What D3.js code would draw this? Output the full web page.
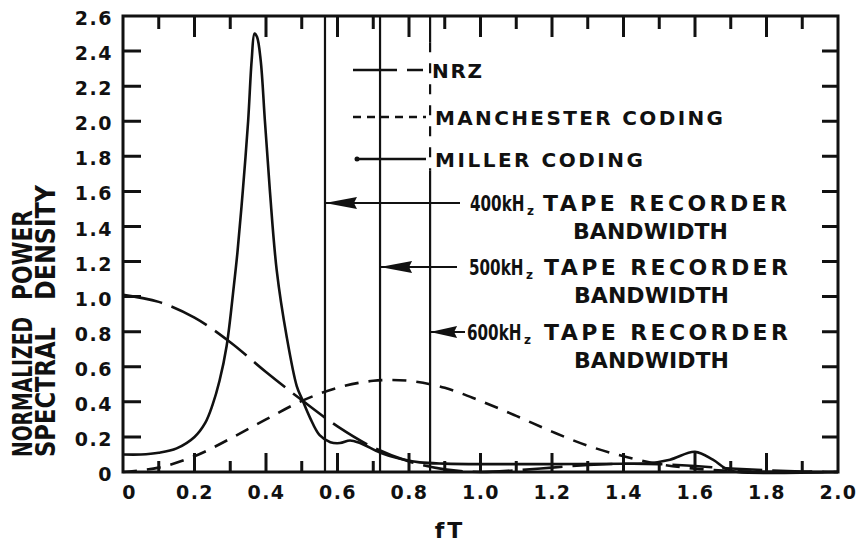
<!DOCTYPE html>
<html>
<head>
<meta charset="utf-8">
<script src="https://cdn.jsdelivr.net/npm/d3@7"></script>
<style>
  body { margin: 0; background: #fff; }
  text { font-family: "DejaVu Sans", sans-serif; font-weight: bold; fill: #111; }
</style>
</head>
<body>
<svg id="chart" width="866" height="543"></svg>
<script>
// values
let fT         = [0, 0.1, 0.2, 0.3, 0.4, 0.5, 0.6, 0.7, 0.8, 0.9, 1.0, 1.1, 1.2, 1.3, 1.4, 1.5, 1.6, 1.7, 1.8, 1.9, 2.0];
let nrz        = [1.01, 0.97, 0.88, 0.74, 0.57, 0.41, 0.26, 0.14, 0.06, 0.015, 0.0, 0.01, 0.025, 0.04, 0.047, 0.045, 0.034, 0.02, 0.01, 0.003, 0.0];
let manchester = [0.0, 0.025, 0.09, 0.19, 0.30, 0.405, 0.48, 0.52, 0.52, 0.48, 0.405, 0.32, 0.23, 0.15, 0.09, 0.045, 0.019, 0.006, 0.001, 0.0, 0.0];

let millerFT  = [0, 0.05, 0.1, 0.15, 0.2, 0.23, 0.25, 0.27, 0.29, 0.31, 0.32, 0.335, 0.35, 0.36, 0.368, 0.375, 0.385, 0.397, 0.411, 0.43, 0.458, 0.486, 0.5, 0.523, 0.55, 0.58, 0.607, 0.635, 0.663, 0.72, 0.775, 0.83, 0.9, 1.0, 1.2, 1.4, 1.47, 1.53, 1.6, 1.65, 1.69, 1.72, 2.0];
let millerVal = [0.10, 0.10, 0.11, 0.135, 0.2, 0.28, 0.38, 0.52, 0.72, 1.06, 1.25, 1.6, 2.0, 2.35, 2.5, 2.48, 2.35, 2.0, 1.6, 1.15, 0.77, 0.49, 0.42, 0.31, 0.21, 0.17, 0.165, 0.18, 0.165, 0.11, 0.075, 0.055, 0.048, 0.045, 0.045, 0.047, 0.05, 0.07, 0.115, 0.07, 0.015, 0.0, 0.0];

// tape recorder bandwidth cut-offs (fT) and the height of their arrows
let bandwidthFT = [0.565, 0.719, 0.859];
let arrowY      = [1.534, 1.169, 0.798];
let bandLabels  = ["400kH", "500kH", "600kH"];

let xTickValues = d3.range(0, 2.001, 0.2);
let yTickValues = d3.range(0, 2.601, 0.2);
let xMinorTicks = [0.1, 0.3, 0.5, 0.7, 0.9, 1.1, 1.3, 1.5, 1.7, 1.9];
let legendNames = ["NRZ", "MANCHESTER CODING", "MILLER CODING"];

let svg = d3.select("#chart");
let mLeft = 123, mRight = 838, mTop = 16, mBottom = 472;

let xScale = d3.scaleLinear().domain([0, 2]).range([mLeft, mRight]);
let yScale = d3.scaleLinear().domain([0, 2.6]).range([mBottom, mTop]);

function fmt(v) { return Math.abs(v) < 1e-9 ? "0" : v.toFixed(1); }

// tick labels through d3 axes
let gx = svg.append("g").attr("transform", "translate(0," + mBottom + ")")
  .call(d3.axisBottom(xScale).tickValues(xTickValues).tickSize(0).tickPadding(14).tickFormat(fmt));
let gy = svg.append("g").attr("transform", "translate(" + mLeft + ",0)")
  .call(d3.axisLeft(yScale).tickValues(yTickValues).tickSize(0).tickPadding(10).tickFormat(fmt));
[gx, gy].forEach(g => {
  g.select(".domain").remove();
  g.selectAll("text").attr("font-size", 19).attr("font-family", "DejaVu Sans")
    .attr("font-weight", "bold").attr("fill", "#111").attr("letter-spacing", 1.5);
});
gx.selectAll("text").attr("dx", d => d == 0 ? 6 : 0);
gy.selectAll("text").attr("dy", "0.45em");

// bandwidth lines
let bw = svg.append("g").attr("stroke", "#111").attr("stroke-width", 2.2);
bandwidthFT.forEach((b, i) => {
  if (i == 2) {
    bw.append("line").attr("x1", xScale(b)).attr("x2", xScale(b)).attr("y1", mTop).attr("y2", yScale(2.45));
    bw.append("line").attr("x1", xScale(b)).attr("x2", xScale(b)).attr("y1", yScale(2.45)).attr("y2", yScale(1.72))
      .attr("stroke-dasharray", "10,11");
    bw.append("line").attr("x1", xScale(b)).attr("x2", xScale(b)).attr("y1", yScale(1.72)).attr("y2", mBottom);
  } else {
    bw.append("line").attr("x1", xScale(b)).attr("x2", xScale(b)).attr("y1", mTop).attr("y2", mBottom);
  }
});

// curves
let curveLine = d3.line().x(d => xScale(d[0])).y(d => yScale(d[1])).curve(d3.curveCatmullRom.alpha(0.5));
let plot = svg.append("g").attr("fill", "none").attr("stroke", "#111").attr("stroke-width", 2.6);

plot.append("path").datum(fT.map((f, i) => [f, nrz[i]])).attr("d", curveLine).attr("stroke-dasharray", "40,10");
plot.append("path").datum(fT.map((f, i) => [f, manchester[i]])).attr("d", curveLine).attr("stroke-dasharray", "14,10");
plot.append("path").datum(millerFT.map((f, i) => [f, millerVal[i]])).attr("d", curveLine);

// legend
let legend = svg.append("g");
let legX0 = 353, legX1 = 426;
let legY = [70, 117, 159];
let legDash = ["44,10,16", "8,6", null];
legendNames.forEach((name, i) => {
  let l = legend.append("line").attr("x1", i == 2 ? legX0 + 4 : legX0).attr("x2", legX1)
    .attr("y1", legY[i]).attr("y2", legY[i]).attr("stroke", "#111").attr("stroke-width", 2.6);
  if (legDash[i]) l.attr("stroke-dasharray", legDash[i]);
  legend.append("text").attr("x", i == 0 ? 432 : 435).attr("y", legY[i] + 8)
    .attr("font-size", 20).attr("textLength", [50, 288, 208][i]).attr("lengthAdjust", "spacing")
    .text(name);
});
legend.append("circle").attr("cx", legX0 + 4).attr("cy", legY[2]).attr("r", 2.5).attr("fill", "#111");

// bandwidth arrows and notes
let notes = svg.append("g");
let lineEnd = [460, 457, 465];
let textX = [470, 469, 467];
let tapeX = [543, 544, 544];
bandwidthFT.forEach((b, i) => {
  let x0 = xScale(b), y0 = yScale(arrowY[i]);
  notes.append("line").attr("x1", x0).attr("x2", lineEnd[i]).attr("y1", y0).attr("y2", y0)
    .attr("stroke", "#111").attr("stroke-width", 2);
  let hl = i == 2 ? 27 : 32;
  notes.append("path")
    .attr("d", "M" + x0 + "," + y0 + " L" + (x0 + hl) + "," + (y0 - 6) + " L" + (x0 + hl - 3) + "," + y0 + " L" + (x0 + hl) + "," + (y0 + 6) + " Z")
    .attr("fill", "#111");
  // narrow "400kH" lettering: squeeze horizontally
  notes.append("text").attr("transform", "translate(" + textX[i] + "," + (y0 + 8) + ") scale(0.69,1)")
    .attr("font-size", 22).text(bandLabels[i]);
  notes.append("text").attr("x", textX[i] + 57).attr("y", y0 + 12).attr("font-size", 12).text("z");
  notes.append("text").attr("x", tapeX[i]).attr("y", y0 + 8).attr("font-size", 22)
    .attr("textLength", 244).attr("lengthAdjust", "spacing").text("TAPE  RECORDER");
  notes.append("text").attr("x", tapeX[i] + 30).attr("y", y0 + 36).attr("font-size", 22)
    .attr("textLength", 155).attr("lengthAdjust", "spacing").text("BANDWIDTH");
});

// axis titles
svg.append("text").attr("x", 450).attr("y", 538).attr("text-anchor", "middle")
  .attr("font-size", 22).attr("letter-spacing", 3).text("fT");

let yl = svg.append("g");
[["NORMALIZED", 457, 140, 32], ["POWER", 300, 90, 32], ["SPECTRAL", 457, 130, 55], ["DENSITY", 300, 115, 55]].forEach(w => {
  yl.append("text").attr("transform", "translate(" + w[3] + "," + w[1] + ") rotate(-90)")
    .attr("font-size", 26).attr("textLength", w[2]).attr("lengthAdjust", "spacingAndGlyphs").text(w[0]);
});

// frame and inward ticks, drawn last as one path
let tp = d3.path();
xTickValues.slice(1, -1).forEach(v => {
  tp.moveTo(xScale(v), mTop); tp.lineTo(xScale(v), mTop + 21);
  tp.moveTo(xScale(v), mBottom); tp.lineTo(xScale(v), mBottom - 19);
});
xMinorTicks.forEach(v => {
  tp.moveTo(xScale(v), mTop); tp.lineTo(xScale(v), mTop + 13);
  tp.moveTo(xScale(v), mBottom); tp.lineTo(xScale(v), mBottom - 11);
});
yTickValues.slice(1, -1).forEach(v => {
  tp.moveTo(mLeft, yScale(v)); tp.lineTo(mLeft + 18, yScale(v));
  tp.moveTo(mRight, yScale(v)); tp.lineTo(mRight - 16, yScale(v));
});
tp.rect(mLeft, mTop, mRight - mLeft, mBottom - mTop);
svg.append("path").attr("d", tp.toString()).attr("fill", "none")
  .attr("stroke", "#111").attr("stroke-width", 3);
</script>
</body>
</html>
